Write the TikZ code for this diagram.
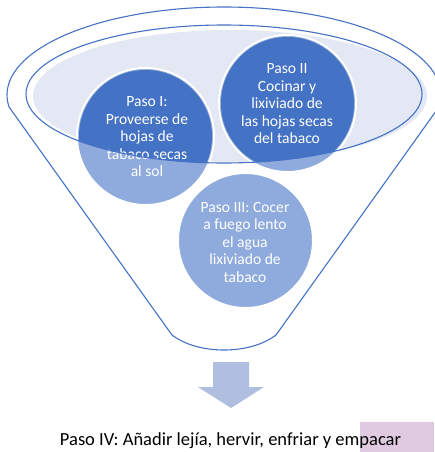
\documentclass[tikz,border=0pt]{standalone}
\usepackage{fontspec}
\setmainfont{Carlito}
\definecolor{dkblue}{HTML}{4472C4}
\definecolor{ltblue}{HTML}{8FAADC}
\definecolor{ellfill}{HTML}{E3E8F4}
\definecolor{arrowc}{HTML}{B0BEE0}
\definecolor{pinkc}{HTML}{DFCAE0}
\tikzset{
  outline/.style={draw=dkblue, line width=1.1pt},
  stepcircle/.style={circle, minimum size=#1, inner sep=0pt, fill=ltblue, draw=white, line width=2pt},
  steptext/.style={text=white, align=center, inner sep=0pt, font=\fontsize{15.6}{17.5}\selectfont},
}
\begin{document}
\begin{tikzpicture}[x=1pt,y=1pt]
\useasboundingbox (0,0) rectangle (434,-452);
% funnel body
\draw[outline, line join=round] (224,-95) ++(187.8:217 and 88) arc[start angle=187.8, end angle=-7.8, x radius=217, y radius=88]
  -- (276,-335) .. controls (250,-355) and (198,-355) .. (172,-335) -- cycle;
% inner ellipse fill
\fill[ellfill] (230,-96) ellipse [x radius=197, y radius=66];
% circles
\node[stepcircle=137pt] (c1) at (145.5,-136.5) {};
\node[stepcircle=137pt] (c2) at (287.5,-103.5) {};
\node[stepcircle=135pt] (c3) at (245.5,-240.5) {};
\begin{scope}
  \clip (224,-94) ellipse [x radius=198, y radius=69];
  \fill[dkblue] (c1.center) circle[radius=66.5pt];
  \fill[dkblue] (c2.center) circle[radius=66.5pt];
\end{scope}
\node[steptext] (t1) at (147,-137) {Paso I:\\Proveerse de\\hojas de\\tabaco secas\\al sol};
\node[steptext] (t2) at (287,-104) {Paso II\\Cocinar y\\lixiviado de\\las hojas secas\\del tabaco};
\node[steptext] (t3) at (245,-242) {Paso III: Cocer\\a fuego lento\\el agua\\lixiviado de\\tabaco};
% inner ellipse outline
\draw[outline] (224,-94) ellipse [x radius=198, y radius=69];
% arrow
\fill[arrowc] (213,-362) -- (249,-362) -- (249,-387) -- (264,-387) -- (231,-408) -- (198,-387) -- (213,-387) -- cycle;
% highlight and final text
\fill[pinkc] (360,-422) rectangle (434,-452);
\node[inner sep=0pt, font=\fontsize{18.5}{20}\selectfont] (t4) at (230.5,-441) {Paso IV: Añadir lejía, hervir, enfriar y empacar};
\end{tikzpicture}
\end{document}
